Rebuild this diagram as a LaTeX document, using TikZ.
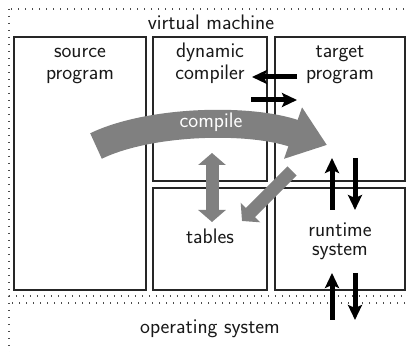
\documentclass[tikz,border=0pt]{standalone}
\usetikzlibrary{arrows.meta}
\begin{document}
\begin{tikzpicture}[x=1pt,y=-1pt,
  box/.style={draw=black!85, line width=1.5pt, inner sep=0pt, outer sep=0pt, rectangle},
  lbl/.style={font=\fontsize{21}{22}\selectfont\sffamily, align=center, anchor=base, inner sep=0pt, text=black!90},
  frame/.style={line width=1.3pt, dash pattern=on 1.3pt off 5.7pt, black!70},
  barrow/.style={line width=5pt, black, -{Stealth[length=15pt,width=14pt,inset=3pt]}},
  garrow/.style={line width=13pt, gray, -{Triangle[length=12pt,width=27pt]}},
  garrowb/.style={line width=13pt, gray, {Triangle[length=12pt,width=27pt]}-{Triangle[length=12pt,width=27pt]}},
  carrow/.style={line width=28pt, gray, -{Triangle[length=36pt,width=52pt]}}
]
\useasboundingbox (0,0) rectangle (408,352);
\clip (0,0) rectangle (408,352);
% dotted frames
\draw[frame] (9,9) rectangle (420,296);
\draw[frame] (9,303) rectangle (420,370);
% boxes
\node[box, minimum width=132pt, minimum height=253pt] (src) at (80,163.5) {};
\node[box, minimum width=114pt, minimum height=144pt] (dyn) at (210,109) {};
\node[box, minimum width=130pt, minimum height=144pt] (tgt) at (340,109) {};
\node[box, minimum width=114pt, minimum height=102pt] (tab) at (210,239) {};
\node[box, minimum width=130pt, minimum height=102pt] (rts) at (340,239) {};
% coordinates
\coordinate (c1s) at (96,146);
\coordinate (c1e) at (327,145);
\coordinate (d1) at (212,153);
\coordinate (d2) at (212,222);
\coordinate (g1) at (292,171);
\coordinate (g2) at (242,221);
\coordinate (b1s) at (297,77);
\coordinate (b1e) at (252,77);
\coordinate (b2s) at (251,100);
\coordinate (b2e) at (297,100);
\coordinate (b3s) at (332,210);
\coordinate (b3e) at (332,158);
\coordinate (b4s) at (355,158);
\coordinate (b4e) at (355,210);
\coordinate (b5s) at (332,320);
\coordinate (b5e) at (332,273);
\coordinate (b6s) at (355,273);
\coordinate (b6e) at (355,320);
% gray arrows
\draw[carrow] (c1s) .. controls (150,120) and (250,118) .. (c1e);
\draw[garrowb] (d1) -- (d2);
\draw[garrow] (g1) -- (g2);
% black arrows
\draw[barrow] (b1s) -- (b1e);
\draw[barrow] (b2s) -- (b2e);
\draw[barrow] (b3s) -- (b3e);
\draw[barrow] (b4s) -- (b4e);
\draw[barrow] (b5s) -- (b5e);
\draw[barrow] (b6s) -- (b6e);
% labels
\node[lbl] (vml) at (211,30) {virtual machine};
\node[lbl] (srcl) at (80,80) {source\\program};
\node[lbl] (dynl) at (210,80) {dynamic\\compiler};
\node[lbl] (tgtl) at (340,80) {target\\program};
\node[lbl] (tabl) at (210,244) {tables};
\node[lbl, font=\fontsize{21}{19}\selectfont\sffamily] (rtsl) at (340,256) {runtime\\system};
\node[lbl] (osl) at (210,334) {operating system};
\node[lbl, text=white] (cmpl) at (211,128) {compile};
\end{tikzpicture}
\end{document}
